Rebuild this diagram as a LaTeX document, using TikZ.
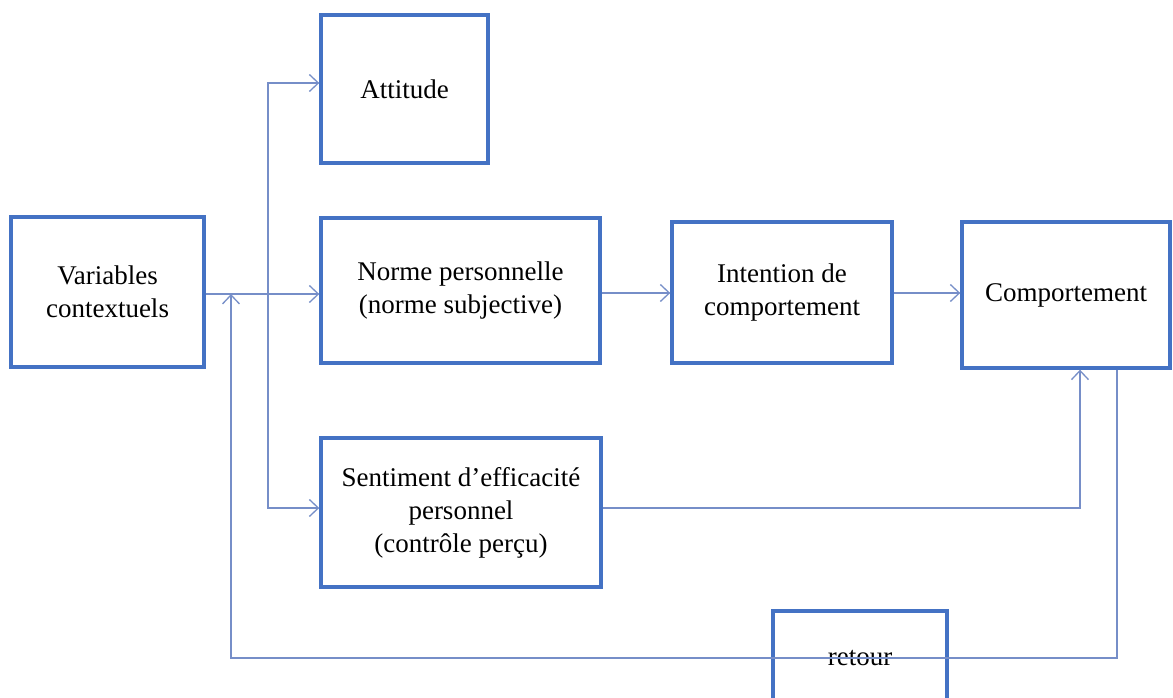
\documentclass[tikz,border=0pt]{standalone}
\usepackage{fontspec}
\setmainfont{Liberation Serif}
\usetikzlibrary{arrows.meta}
\definecolor{boxblue}{RGB}{68,114,196}
\definecolor{linkblue}{RGB}{118,142,200}
\tikzset{
  box/.style={draw=boxblue, line width=3.4pt, rectangle, align=center,
    inner sep=0pt, font=\fontsize{27}{33}\selectfont},
  conn/.style={draw=linkblue, line width=1.3pt},
  arr/.style={conn, -{Straight Barb[length=9pt,width=17pt,line width=1.3pt]}}
}
\begin{document}
\begin{tikzpicture}[x=1pt,y=-1pt]
\clip (0,0) rectangle (1173,697);
\fill[white] (0,0) rectangle (1173,697);
\node[box, minimum width=193pt, minimum height=150pt] (var) at (107.5,292) {Variables\\contextuels};
\node[box, minimum width=167pt, minimum height=148pt] (att) at (404.5,89) {Attitude};
\node[box, minimum width=279pt, minimum height=145pt] (norme) at (460.5,290.5) {Norme personnelle\\(norme subjective)};
\node[box, minimum width=220pt, minimum height=141pt] (intent) at (782,292.5) {Intention de\\comportement};
\node[box, minimum width=208pt, minimum height=146pt] (comp) at (1066,295) {Comportement};
\node[box, minimum width=280pt, minimum height=149pt] (sent) at (461,512.5) {Sentiment d’efficacité\\personnel\\(contrôle perçu)};
\node[box, minimum width=174pt, minimum height=94pt] (ret) at (860,658) {retour};
\coordinate (branch) at (268,294);
\coordinate (sentcorner) at (1080,508);
\coordinate (retcornerR) at (1117,658);
\coordinate (retcornerL) at (231,658);
\coordinate (join) at (231,294);
% connectors
\draw[arr] (var.east |- branch) -- (norme.west |- branch);
\draw[arr] (branch) |- (att.west |- 0,83);
\draw[arr] (branch) |- (sent.west |- 0,508);
\draw[arr] (norme.east |- 0,293) -- (intent.west |- 0,293);
\draw[arr] (intent.east |- 0,293) -- (comp.west |- 0,293);
\draw[arr] (sent.east |- sentcorner) -- (sentcorner) -- (sentcorner |- comp.south);
\draw[arr] (retcornerR |- comp.south) -- (retcornerR) -- (retcornerL) -- (join);
\end{tikzpicture}
\end{document}
